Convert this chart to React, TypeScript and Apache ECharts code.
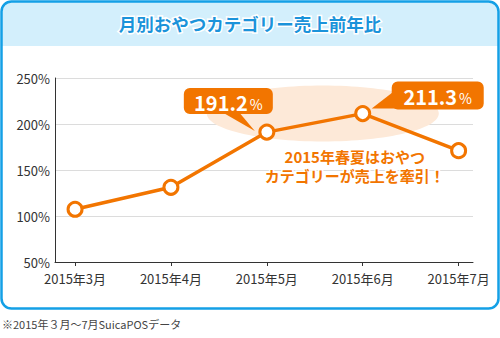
import React, { useEffect, useRef } from "react";
import * as echarts from "echarts";

const categories = ["2015年3月", "2015年4月", "2015年5月", "2015年6月", "2015年7月"];
const ratios = [107.3, 131.2, 191.2, 211.3, 171.0];
const yTicks = [50, 100, 150, 200, 250];
const titleText = "月別おやつカテゴリー売上前年比";
const noteText = "※2015年３月〜7月SuicaPOSデータ";
const commentLines = ["2015年春夏はおやつ", "カテゴリーが売上を牽引！"];
const calloutIdx = [2, 3];

const ORANGE = "#f27500";
const BLUE = "#14a0e6";
const FONT = "'Noto Sans CJK JP', 'Noto Sans', sans-serif";

export default function App() {
  const ref = useRef<HTMLDivElement>(null);
  useEffect(() => {
    if (!ref.current) return;
    const chart = echarts.init(ref.current, undefined, { renderer: "svg" });
    const idx = categories.map((_, i) => i);
    chart.setOption({
      animation: false,
      textStyle: { fontFamily: FONT },
      title: {
        text: titleText,
        left: "center",
        top: 10,
        textStyle: {
          fontFamily: FONT,
          fontSize: 17.5,
          fontWeight: "bold",
          color: "#1b93da",
          textBorderColor: "#fff",
          textBorderWidth: 3,
        },
      },
      grid: { left: 55, right: 27, top: 78, bottom: 76 },
      xAxis: {
        type: "value",
        min: -0.209,
        max: 4.15,
        splitLine: { show: false },
        axisLine: { show: true, onZero: false, lineStyle: { color: "#333", width: 1 } },
        axisTick: { show: true, customValues: idx, length: 4, lineStyle: { color: "#333" } },
        axisLabel: {
          customValues: idx,
          formatter: (v: number) => categories[Math.round(v)] ?? "",
          color: "#333",
          fontSize: 13,
          margin: 10,
          fontFamily: FONT,
        },
      },
      yAxis: {
        type: "value",
        min: yTicks[0],
        max: yTicks[yTicks.length - 1],
        interval: 50,
        axisLine: { show: true, onZero: false, lineStyle: { color: "#333", width: 1 } },
        axisTick: { show: false },
        axisLabel: { formatter: "{value}%", color: "#333", fontSize: 13, margin: 5, fontFamily: FONT },
        splitLine: { show: true, lineStyle: { color: "#dcdcdc", width: 1 } },
      },
      series: [
        {
          type: "line",
          data: ratios.map((v, i) => [i, v]),
          symbol: "circle",
          symbolSize: 14,
          lineStyle: { color: ORANGE, width: 3.5 },
          itemStyle: { color: "#fff", borderColor: ORANGE, borderWidth: 3 },
          z: 5,
        },
      ],
    });

    const px = (i: number) => chart.convertToPixel({ gridIndex: 0 }, [i, ratios[i]]) as number[];
    const P = px(calloutIdx[0]);
    const Q = px(calloutIdx[1]);
    const cx = (P[0] + Q[0]) / 2 + 8;
    const cy = Q[1];

    const callout = (x: number, y: number, w: number, h: number, value: number, tri: number[][]) => [
      { type: "polygon", z: 20, shape: { points: tri }, style: { fill: ORANGE } },
      { type: "rect", z: 20, shape: { x, y, width: w, height: h, r: 6 }, style: { fill: ORANGE } },
      {
        type: "text",
        z: 21,
        x: x + w / 2,
        y: y + h / 2 + 1,
        style: {
          text: `{v|${value.toFixed(1)}}{p|%}`,
          align: "center",
          verticalAlign: "middle",
          rich: {
            v: { fontFamily: FONT, fontSize: 20, fontWeight: "bold", fill: "#fff" },
            p: { fontFamily: FONT, fontSize: 14, fill: "#fff", padding: [3, 0, 0, 2] },
          },
        },
      },
    ];

    const commentStyle = (text: string) => ({
      text,
      align: "center",
      verticalAlign: "middle",
      fontFamily: FONT,
      fontSize: 15,
      fontWeight: "bold",
      fill: ORANGE,
      stroke: "#fff",
      lineWidth: 3,
    });

    chart.setOption({
      graphic: [
        {
          type: "rect",
          z: -2,
          shape: { x: 2, y: 2, width: 496, height: 44, r: [10, 10, 0, 0] },
          style: { fill: "#d3effc" },
        },
        {
          type: "rect",
          z: 30,
          shape: { x: 1.5, y: 1.5, width: 497, height: 307, r: 10 },
          style: { fill: "none", stroke: BLUE, lineWidth: 2.5 },
        },
        {
          type: "ellipse",
          z: 0,
          shape: { cx, cy, rx: 116, ry: 28 },
          style: { fill: "#fde9d8" },
        },
        ...callout(P[0] - 83, P[1] - 44, 89, 26, ratios[calloutIdx[0]], [
          [P[0] - 45, P[1] - 20],
          [P[0] - 28, P[1] - 20],
          [P[0] - 12, P[1] - 1],
        ]),
        ...callout(Q[0] + 29, Q[1] - 32, 92, 28, ratios[calloutIdx[1]], [
          [Q[0] + 31, Q[1] - 22],
          [Q[0] + 36, Q[1] - 5],
          [Q[0] + 9, Q[1] - 5],
        ]),
        { type: "text", z: 20, x: cx + 32, y: P[1] + 24, style: commentStyle(commentLines[0]) },
        { type: "text", z: 20, x: cx + 32, y: P[1] + 43, style: commentStyle(commentLines[1]) },
        {
          type: "text",
          z: 20,
          x: 2,
          y: 324,
          style: {
            text: noteText,
            verticalAlign: "middle",
            fontFamily: FONT,
            fontSize: 11,
            fill: "#444",
          },
        },
      ],
    });
    return () => chart.dispose();
  }, []);
  return (
    <div
      ref={ref}
      style={{ position: "fixed", left: 0, top: 0, width: 500, height: 338, background: "#fff" }}
    />
  );
}
